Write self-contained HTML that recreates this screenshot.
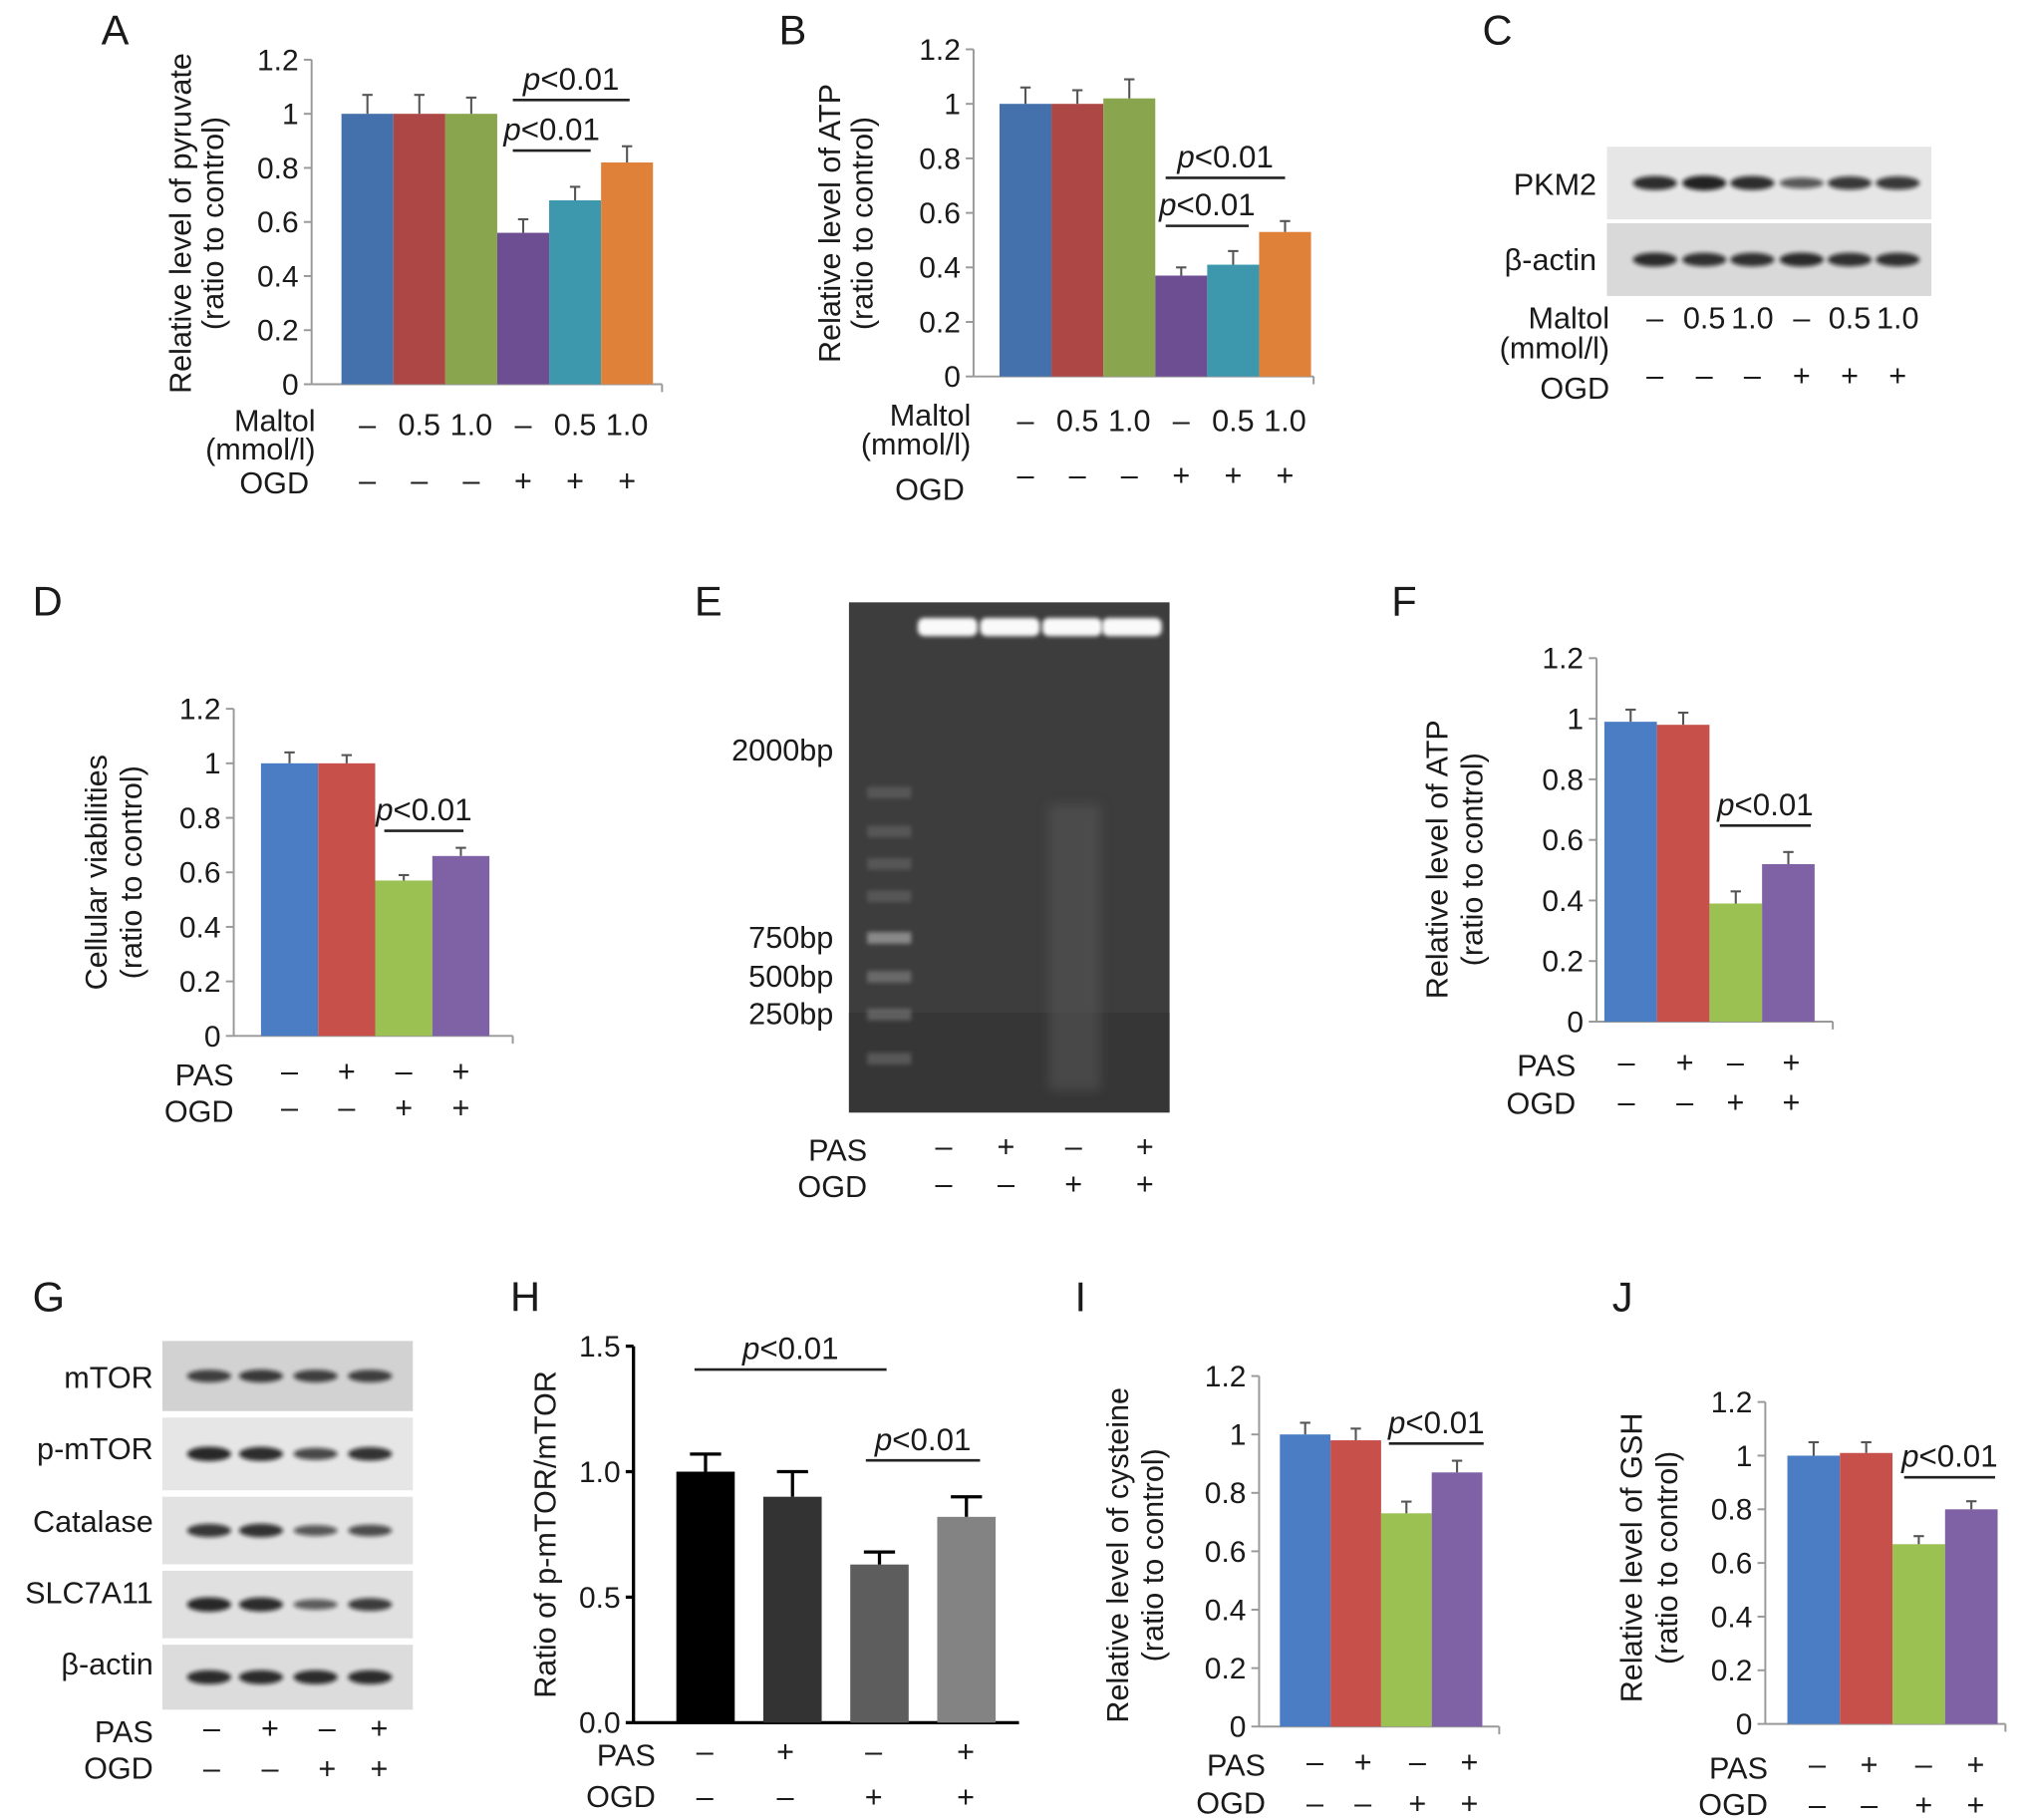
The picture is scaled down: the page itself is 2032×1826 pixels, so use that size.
<!DOCTYPE html>
<html><head><meta charset="utf-8"><style>
html,body{margin:0;padding:0;background:#fff;}
svg{display:block;font-family:"Liberation Sans",Arial,sans-serif;}
text{fill:#1a1a1a;}
</style></head><body>
<svg id="fig" width="2032" height="1826" viewBox="0 0 1560 1402" xmlns="http://www.w3.org/2000/svg">
<defs>
<filter id="blur1" x="-20%" y="-100%" width="140%" height="300%"><feGaussianBlur stdDeviation="1.6"/></filter>
<filter id="blur3" x="-50%" y="-50%" width="200%" height="200%"><feGaussianBlur stdDeviation="4"/></filter>
</defs>
</svg>
<script>
// ---- data ----
const aCats=["–","0.5","1.0","–","0.5","1.0"];
const aOgd=["–","–","–","+","+","+"];
const aValues=[1,1,1,0.56,0.68,0.82];
const aErrors=[0.07,0.07,0.06,0.05,0.05,0.06];
const aTicks=["0","0.2","0.4","0.6","0.8","1","1.2"];
const bValues=[1,1,1.02,0.37,0.41,0.53];
const bErrors=[0.06,0.05,0.07,0.03,0.05,0.04];
const dPas=["–","+","–","+"];
const dOgd=["–","–","+","+"];
const dValues=[1,1,0.57,0.66];
const dErrors=[0.04,0.03,0.02,0.03];
const fValues=[0.99,0.98,0.39,0.52];
const fErrors=[0.04,0.04,0.04,0.04];
const hValues=[1.0,0.9,0.63,0.82];
const hErrors=[0.07,0.1,0.05,0.08];
const hTicks=["0.0","0.5","1.0","1.5"];
const iValues=[1,0.98,0.73,0.87];
const iErrors=[0.04,0.04,0.04,0.04];
const jValues=[1,1.01,0.67,0.8];
const jErrors=[0.05,0.04,0.03,0.03];

const NS="http://www.w3.org/2000/svg";
const svg=document.getElementById('fig');
function el(tag,attrs,parent,txt){const e=document.createElementNS(NS,tag);for(const k in attrs)e.setAttribute(k,attrs[k]);if(txt!==undefined)e.textContent=txt;(parent||svg).appendChild(e);return e;}

const six=["#4470ab","#ac4745","#89a54e","#6e4e93","#3d98ae","#e0813a"];
const four=["#4a7dc3","#c8504b","#9bc152","#7f62a5"];
const grays=["#000000","#333333","#5d5d5d","#838383"];

function panelLetter(t,x,y){const e=el('text',{x:x,y:y,'font-size':32},svg,t);}

function barChart(c){
  const g=el('g',{});
  
  
  const y=v=>c.y0-(v/c.max)*(c.y0-c.yTop);
  const axc=c.black?'#000':'#999';
  const axw=c.black?2.5:1.5;
  c.ticks.forEach((t,i)=>{const v=c.max*i/(c.ticks.length-1);
    const ln=el('line',{x1:c.ax-6,x2:c.ax,y1:y(v),y2:y(v),stroke:axc,'stroke-width':axw},g);
    
    const tx=el('text',{x:c.ax-10,y:y(v)+8,'text-anchor':'end','font-size':23},g,t);
    });
  const ya=el('line',{x1:c.ax,x2:c.ax,y1:c.yTop,y2:c.y0,stroke:axc,'stroke-width':axw},g);
  
  const xa=el('line',{x1:c.ax,x2:c.axEnd,y1:c.y0,y2:c.y0,stroke:axc,'stroke-width':axw},g);
  
  if(!c.black){const tk=el('line',{x1:c.axEnd,x2:c.axEnd,y1:c.y0,y2:c.y0+6,stroke:axc,'stroke-width':1.5},g);}
  c.values.forEach((v,i)=>{
    const cx=c.x0+c.gap*i+c.bw/2;
    const r=el('rect',{x:cx-c.bw/2,y:y(v),width:c.bw,height:c.y0-y(v),fill:c.colors[i]},g);
    
    const top=y(v+c.errors[i]);
    const e1=el('line',{x1:cx,x2:cx,y1:y(v),y2:top,stroke:c.black?'#000':'#555','stroke-width':c.black?2.5:1.6},g);
    
    const e2=el('line',{x1:cx-(c.black?12:4),x2:cx+(c.black?12:4),y1:top,y2:top,stroke:c.black?'#000':'#555','stroke-width':c.black?2.5:1.6},g);
    
  });
  c.sig.forEach(s=>{
    const l=el('line',{x1:s[0],x2:s[1],y1:s[2],y2:s[2],stroke:'#222','stroke-width':2},g);
    
    const t=el('text',{x:(s[0]+s[1])/2,y:s[2]-8,'text-anchor':'middle','font-size':24},g);
    
    const ts=el('tspan',{'font-style':'italic'},t,'p');
    el('tspan',{},t,'<0.01');
  });
  c.title.forEach((t,k)=>{const tx=el('text',{x:0,y:0,'text-anchor':'middle','font-size':23.5,transform:`translate(${c.tx[k]},${c.ty}) rotate(-90)`},g,t);
    });
  return {g,center:i=>c.x0+c.gap*i+c.bw/2};
}
function rows(rowsDef){
  rowsDef.forEach(r=>{
    const tx=el('text',{x:r.lx,y:r.ly,'text-anchor':'end','font-size':23.5},svg,r.label);
    
    (r.vals||[]).forEach((v,i)=>{const t=el('text',{x:r.xs[i],y:r.vy,'text-anchor':'middle','font-size':23.5},svg,v);
      });
  });
}
function blot(id,x,y,w,h,lanes,intens,fill){
  const g=el('g',{});
  el('rect',{x:x,y:y,width:w,height:h,fill:fill||'#e2e2e2'},g);
  lanes.forEach((lx,i)=>{const b=el('ellipse',{cx:lx,cy:y+h/2,rx:17,ry:3+3*intens[i],fill:'#111',opacity:0.45+0.5*intens[i],filter:'url(#blur1)'},g);
    });
}

// Panel A
panelLetter('A',78,34);
const A=barChart({id:'a',ax:240,axEnd:510,yTop:46,y0:296,max:1.2,ticks:aTicks,values:aValues,errors:aErrors,colors:six,x0:263,gap:40,bw:40,
  sig:[[395,455,116],[395,485,77]],title:['Relative level of pyruvate','(ratio to control)'],tx:[147,172],ty:172});
rows([{label:'Maltol',lx:243,ly:332,vals:aCats,xs:aValues.map((_,i)=>A.center(i)),vy:335},
      {label:'(mmol/l)',lx:243,ly:354},
      {label:'OGD',lx:238,ly:380,vals:aOgd,xs:aValues.map((_,i)=>A.center(i)),vy:378}]);
// Panel B
panelLetter('B',600,34);
const B=barChart({id:'b',ax:750,axEnd:1012,yTop:38,y0:290,max:1.2,ticks:aTicks,values:bValues,errors:bErrors,colors:six,x0:770,gap:40,bw:40,
  sig:[[898,962,174],[898,990,137]],title:['Relative level of ATP','(ratio to control)'],tx:[647,672],ty:172});
rows([{label:'Maltol',lx:748,ly:328,vals:aCats,xs:bValues.map((_,i)=>B.center(i)),vy:332},
      {label:'(mmol/l)',lx:748,ly:350},
      {label:'OGD',lx:743,ly:385,vals:aOgd,xs:bValues.map((_,i)=>B.center(i)),vy:374}]);
// Panel C
panelLetter('C',1142,34);
const cl=[1275,1313,1350,1388,1425,1462];
blot('pkm2',1238,113,250,56,cl,[0.8,0.9,0.8,0.4,0.7,0.7],'#e6e6e6');
blot('c-actin',1238,172,250,56,cl,[0.8,0.75,0.75,0.8,0.75,0.75],'#d9d9d9');
rows([{label:'PKM2',lx:1230,ly:150},{label:'β-actin',lx:1230,ly:208},
      {label:'Maltol',lx:1240,ly:253,vals:aCats,xs:cl,vy:253},
      {label:'(mmol/l)',lx:1240,ly:276},
      {label:'OGD',lx:1240,ly:307,vals:aOgd,xs:cl,vy:297}]);
// Panel D
panelLetter('D',25,474);
const D=barChart({id:'d',ax:180,axEnd:395,yTop:546,y0:798,max:1.2,ticks:aTicks,values:dValues,errors:dErrors,colors:four,x0:201,gap:44,bw:44,
  sig:[[296,357,640]],title:['Cellular viabilities','(ratio to control)'],tx:[82,109],ty:672});
rows([{label:'PAS',lx:180,ly:836,vals:dPas,xs:dValues.map((_,i)=>D.center(i)),vy:833},
      {label:'OGD',lx:180,ly:864,vals:dOgd,xs:dValues.map((_,i)=>D.center(i)),vy:861}]);
// Panel E gel
panelLetter('E',535,474);
(function(){const g=el('g',{});
  el('rect',{x:654,y:464,width:247,height:393,fill:'#3d3d3d'},g);
  el('rect',{x:654,y:780,width:247,height:77,fill:'#363636'},g);
  [730,778,826,872].forEach(x=>{const b=el('rect',{x:x-23,y:476,width:46,height:14,rx:5,fill:'#fafafa',filter:'url(#blur1)'},g);});
  const sm=el('rect',{x:808,y:620,width:40,height:220,fill:'#5a5a5a',opacity:0.5,filter:'url(#blur3)'},g);
  [[610,0.2],[640,0.2],[665,0.2],[690,0.2],[722,0.6],[752,0.35],[781,0.3],[815,0.25]].forEach(b=>{const r=el('rect',{x:668,y:b[0]-4,width:34,height:9,fill:'#bbb',opacity:b[1],filter:'url(#blur1)'},g);});
})();
rows([{label:'2000bp',lx:642,ly:586},{label:'750bp',lx:642,ly:730},{label:'500bp',lx:642,ly:760},{label:'250bp',lx:642,ly:789},
      {label:'PAS',lx:668,ly:894,vals:dPas,xs:[727,775,827,882],vy:891},
      {label:'OGD',lx:668,ly:922,vals:dOgd,xs:[727,775,827,882],vy:920}]);
// Panel F
panelLetter('F',1072,474);
const F=barChart({id:'f',ax:1230,axEnd:1412,yTop:507,y0:787,max:1.2,ticks:aTicks,values:fValues,errors:fErrors,colors:four,x0:1236,gap:40.5,bw:40.5,
  sig:[[1325,1395,636]],title:['Relative level of ATP','(ratio to control)'],tx:[1115,1142],ty:662});
rows([{label:'PAS',lx:1214,ly:829,vals:dPas,xs:[1253,1298,1337,1380],vy:826},
      {label:'OGD',lx:1214,ly:858,vals:dOgd,xs:[1253,1298,1337,1380],vy:857}]);
// Panel G
panelLetter('G',25,1010);
const gl=[161,201,243,285];
blot('mtor',125,1033,193,54,gl,[0.6,0.65,0.6,0.6],'#d2d2d2');
blot('p-mtor',125,1092,193,56,gl,[0.85,0.8,0.55,0.75],'#e6e6e6');
blot('catalase',125,1153,193,52,gl,[0.7,0.75,0.4,0.5],'#e2e2e2');
blot('slc7a11',125,1210,193,52,gl,[0.85,0.8,0.35,0.65],'#e0e0e0');
blot('g-actin',125,1267,193,50,gl,[0.8,0.8,0.8,0.8],'#dcdcdc');
rows([{label:'mTOR',lx:118,ly:1069},{label:'p-mTOR',lx:118,ly:1124},{label:'Catalase',lx:118,ly:1180},{label:'SLC7A11',lx:118,ly:1235},{label:'β-actin',lx:118,ly:1290},
      {label:'PAS',lx:118,ly:1342,vals:dPas,xs:[163,208,252,292],vy:1339},
      {label:'OGD',lx:118,ly:1370,vals:dOgd,xs:[163,208,252,292],vy:1370}]);
// Panel H
panelLetter('H',393,1010);
const H=barChart({id:'h',ax:488,axEnd:785,yTop:1037,y0:1327,max:1.5,ticks:hTicks,values:hValues,errors:hErrors,colors:grays,x0:521,gap:67,bw:45,black:true,
  sig:[[535,683,1055],[667,755,1125]],title:['Ratio of p-mTOR/mTOR'],tx:[428],ty:1182});
rows([{label:'PAS',lx:505,ly:1360,vals:dPas,xs:[543,605,673,744],vy:1357},
      {label:'OGD',lx:505,ly:1392,vals:dOgd,xs:[543,605,673,744],vy:1392}]);
// Panel I
panelLetter('I',828,1010);
const I=barChart({id:'i',ax:970,axEnd:1155,yTop:1060,y0:1330,max:1.2,ticks:aTicks,values:iValues,errors:iErrors,colors:four,x0:986,gap:39,bw:39,
  sig:[[1070,1143,1112]],title:['Relative level of cysteine','(ratio to control)'],tx:[869,896],ty:1198});
rows([{label:'PAS',lx:975,ly:1368,vals:dPas,xs:[1013,1050,1092,1132],vy:1365},
      {label:'OGD',lx:975,ly:1397,vals:dOgd,xs:[1013,1050,1092,1132],vy:1397}]);
// Panel J
panelLetter('J',1242,1010);
const J=barChart({id:'j',ax:1360,axEnd:1545,yTop:1080,y0:1328,max:1.2,ticks:aTicks,values:jValues,errors:jErrors,colors:four,x0:1377,gap:40.5,bw:40.5,
  sig:[[1467,1537,1138]],title:['Relative level of GSH','(ratio to control)'],tx:[1265,1292],ty:1200});
rows([{label:'PAS',lx:1362,ly:1370,vals:dPas,xs:[1400,1440,1482,1522],vy:1367},
      {label:'OGD',lx:1362,ly:1398,vals:dOgd,xs:[1400,1440,1482,1522],vy:1398}]);
</script>
</body></html>
